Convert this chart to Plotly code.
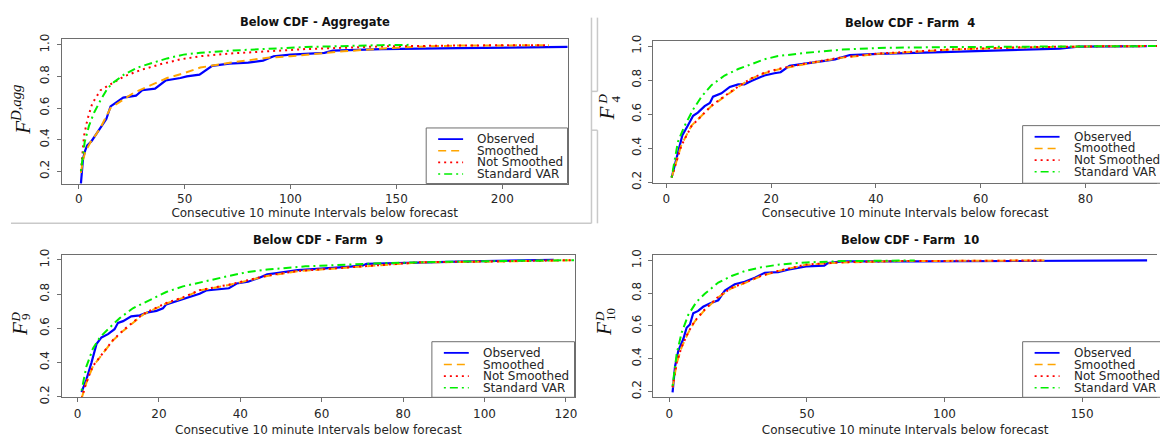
import plotly.graph_objects as go

W, H = 1160, 437

# ---------------- data ----------------
series_names = ["Observed", "Smoothed", "Not Smoothed", "Standard VAR"]
x_axis_label = "Consecutive 10 minute Intervals below forecast"
panel_titles = ["Below CDF - Aggregate", "Below CDF - Farm  4",
                "Below CDF - Farm  9", "Below CDF - Farm  10"]

# Aggregate
agg_obs_x = [1, 2, 3, 4, 6, 8, 10, 12, 13, 15, 17, 21, 27, 30, 36, 41, 48, 51, 57, 63, 71, 80, 87, 92, 100, 116, 120, 143, 179, 215, 231]
agg_obs_y = [0.12, 0.28, 0.33, 0.364, 0.39, 0.43, 0.467, 0.51, 0.53, 0.61, 0.63, 0.666, 0.678, 0.713, 0.723, 0.774, 0.79, 0.80, 0.811, 0.867, 0.881, 0.887, 0.90, 0.928, 0.938, 0.949, 0.963, 0.973, 0.979, 0.984, 0.987]
agg_sm_x = [1, 2, 3, 5.6, 8, 10.3, 15, 20.5, 26, 33.8, 41.7, 49.5, 57.4, 71.3, 89.2, 100, 125, 152, 179, 222]
agg_sm_y = [0.19, 0.27, 0.32, 0.385, 0.43, 0.477, 0.60, 0.65, 0.697, 0.743, 0.79, 0.82, 0.856, 0.887, 0.918, 0.928, 0.959, 0.984, 0.996, 0.997]
agg_ns_x = [1, 1.7, 2.5, 4.1, 6.4, 10.3, 15, 21.3, 29.1, 38.5, 48, 57.4, 71.3, 89.2, 107, 143, 179, 222]
agg_ns_y = [0.2, 0.323, 0.426, 0.528, 0.63, 0.713, 0.75, 0.80, 0.84, 0.877, 0.908, 0.928, 0.945, 0.959, 0.973, 0.99, 0.996, 0.998]
agg_var_x = [1, 1.4, 2.8, 4.8, 7.2, 10.3, 13.5, 16.6, 21.3, 27.6, 33.8, 41.7, 49.5, 57.4, 71.3, 89.2, 107, 143, 157]
agg_var_y = [0.2, 0.24, 0.385, 0.487, 0.57, 0.65, 0.723, 0.764, 0.811, 0.856, 0.88, 0.914, 0.938, 0.95, 0.963, 0.973, 0.986, 0.998, 1.0]

# Farm 4
f4_obs_x = [1, 2.2, 3.05, 4.1, 5.1, 6, 7.3, 8.3, 8.9, 10.5, 12.1, 13.7, 14.9, 16.2, 17.5, 18.7, 20.6, 21.8, 23.5, 26.6, 30.1, 32.2, 35, 40.5, 54.3, 68.2, 75.1, 78.6, 88.9, 91.7]
f4_obs_y = [0.228, 0.38, 0.476, 0.533, 0.59, 0.609, 0.647, 0.666, 0.703, 0.722, 0.76, 0.775, 0.775, 0.795, 0.814, 0.827, 0.84, 0.846, 0.884, 0.897, 0.909, 0.922, 0.947, 0.954, 0.966, 0.979, 0.985, 0.996, 1.0, 1.0]
f4_sm_x = [1, 2.86, 4.8, 6.7, 8.6, 11.1, 13.7, 16.2, 18.7, 21.3, 26.6, 33.6, 40.5, 54.3, 68.2, 82, 93.7]
f4_sm_y = [0.228, 0.419, 0.533, 0.59, 0.647, 0.703, 0.76, 0.808, 0.840, 0.862, 0.895, 0.932, 0.954, 0.979, 0.992, 0.998, 1.0]
f4_ns_x = [1, 2.86, 4.8, 6.7, 8.6, 11.1, 13.7, 16.2, 18.7, 21.3, 26.6, 33.6, 40.5, 54.3, 68.2, 82, 93.7]
f4_ns_y = [0.228, 0.416, 0.530, 0.592, 0.650, 0.706, 0.762, 0.810, 0.843, 0.865, 0.898, 0.934, 0.956, 0.980, 0.993, 0.998, 1.0]
f4_var_x = [1, 2.2, 3.5, 5.1, 6.7, 8.6, 11.1, 13.7, 16.2, 18.7, 21.3, 26.6, 33.6, 40.5, 54.3, 75, 93.7]
f4_var_y = [0.228, 0.438, 0.533, 0.627, 0.703, 0.77, 0.827, 0.865, 0.893, 0.922, 0.941, 0.96, 0.979, 0.989, 0.994, 0.998, 1.0]

# Farm 9
f9_obs_x = [1, 2.2, 3.4, 4.7, 5.9, 7.5, 9.1, 9.95, 11.2, 13.2, 15.3, 17.3, 19.4, 21, 21.8, 30, 31.6, 35.4, 37.2, 39.1, 41.9, 44.7, 46.6, 48.5, 54.1, 65.4, 70, 71, 82.3, 93.5, 117]
f9_obs_y = [0.227, 0.302, 0.397, 0.51, 0.547, 0.566, 0.595, 0.632, 0.642, 0.67, 0.676, 0.693, 0.702, 0.717, 0.74, 0.802, 0.821, 0.83, 0.834, 0.862, 0.872, 0.896, 0.915, 0.921, 0.94, 0.957, 0.966, 0.977, 0.985, 0.99, 1.0]
f9_sm_x = [1, 2.2, 3.8, 6.3, 8.7, 11.2, 13.6, 16.1, 18.5, 21.8, 25.9, 30, 37.2, 41.9, 46.6, 54.1, 65.4, 74.8, 84.1, 102.9, 122]
f9_sm_y = [0.19, 0.283, 0.378, 0.453, 0.529, 0.585, 0.632, 0.68, 0.708, 0.745, 0.778, 0.821, 0.853, 0.878, 0.906, 0.934, 0.953, 0.972, 0.985, 0.99, 0.998]
f9_ns_x = [1, 2.2, 3.8, 6.3, 8.7, 11.2, 13.6, 16.1, 18.5, 21.8, 25.9, 30, 37.2, 41.9, 46.6, 54.1, 65.4, 74.8, 84.1, 102.9, 122]
f9_ns_y = [0.19, 0.285, 0.380, 0.456, 0.531, 0.588, 0.635, 0.683, 0.711, 0.748, 0.781, 0.823, 0.855, 0.880, 0.908, 0.935, 0.954, 0.973, 0.986, 0.991, 0.998]
f9_var_x = [1, 2.2, 3.8, 5.5, 7.9, 10.4, 13.6, 17.7, 21.8, 25.9, 30, 37.2, 41.9, 46.6, 56, 65.4, 74.8, 93.5, 122]
f9_var_y = [0.236, 0.378, 0.482, 0.547, 0.604, 0.66, 0.717, 0.765, 0.812, 0.845, 0.868, 0.906, 0.929, 0.943, 0.962, 0.972, 0.981, 0.99, 0.998]

# Farm 10
f10_obs_x = [1.2, 2.1, 3.3, 5.1, 6.3, 7.5, 8.7, 10.5, 12.3, 14.7, 17.8, 20.2, 23.8, 27.4, 31.1, 34.7, 39.5, 43.1, 49.7, 56.3, 57.6, 62.9, 89.2, 128.7, 155, 173.6]
f10_obs_y = [0.194, 0.352, 0.45, 0.52, 0.589, 0.609, 0.678, 0.692, 0.717, 0.737, 0.757, 0.816, 0.855, 0.87, 0.895, 0.925, 0.929, 0.944, 0.964, 0.968, 0.984, 0.994, 0.994, 0.997, 1.0, 1.0]
f10_sm_x = [1.2, 2.7, 4.5, 6.9, 9.3, 12.9, 17.8, 22.6, 27.4, 33.4, 39.5, 43.1, 49.7, 62.9, 82.6, 136.6]
f10_sm_y = [0.224, 0.372, 0.47, 0.559, 0.628, 0.698, 0.775, 0.83, 0.862, 0.905, 0.935, 0.948, 0.974, 0.988, 0.996, 1.0]
f10_ns_x = [1.2, 2.7, 4.5, 6.9, 9.3, 12.9, 17.8, 22.6, 27.4, 33.4, 39.5, 43.1, 49.7, 62.9, 82.6, 136.6]
f10_ns_y = [0.226, 0.375, 0.473, 0.562, 0.631, 0.701, 0.778, 0.832, 0.864, 0.907, 0.936, 0.949, 0.975, 0.989, 0.996, 1.0]
f10_var_x = [1.2, 2.7, 4.5, 6.9, 9.9, 12.9, 17.8, 22.6, 27.4, 33.4, 39.5, 49.7, 62.9, 89.2]
f10_var_y = [0.234, 0.431, 0.559, 0.668, 0.747, 0.796, 0.865, 0.905, 0.935, 0.958, 0.974, 0.988, 0.996, 1.0]

x_ticks_agg = [0, 50, 100, 150, 200]
x_ticks_f4 = [0, 20, 40, 60, 80]
x_ticks_f9 = [0, 20, 40, 60, 80, 100, 120]
x_ticks_f10 = [0, 50, 100, 150]
y_ticks = [0.2, 0.4, 0.6, 0.8, 1.0]

# ---------------- styles ----------------
COLORS = ["#0000FF", "#FFA500", "#FF0000", "#00EE00"]
DASHES = ["solid", "8px,5px", "2px,4px", "2px,4px,8px,4px"]
WIDTHS = [2.2, 2, 2, 2]
AX = "#6e6e6e"
TXT = "#262626"
SANS = "DejaVu Sans"
SERIF = "Liberation Serif"


def fx(p):
    return p / W


def fy(p):
    return 1 - p / H


panels = [
    dict(data=[(agg_obs_x, agg_obs_y), (agg_sm_x, agg_sm_y), (agg_ns_x, agg_ns_y), (agg_var_x, agg_var_y)],
         box=(62, 569, 34, 183), xr=[-8, 230.8], yr=[0.122, 1.037], xt=x_ticks_agg,
         leg=(427.3, 125.7), title=panel_titles[0], mirror_y=True, tdy=18, sto=2, tls=0),
    dict(data=[(f4_obs_x, f4_obs_y), (f4_sm_x, f4_sm_y), (f4_ns_x, f4_ns_y), (f4_var_x, f4_var_y)],
         box=(655, 1160, 36, 182.7), xr=[-2.5, 93.65], yr=[0.194, 1.03], xt=x_ticks_f4,
         leg=(1025.3, 123.3), title=panel_titles[1], mirror_y=False, tcx=912, tdy=18, sto=2, tls=0),
    dict(data=[(f9_obs_x, f9_obs_y), (f9_sm_x, f9_sm_y), (f9_ns_x, f9_ns_y), (f9_var_x, f9_var_y)],
         box=(62.3, 576, 256.7, 403.3), xr=[-3.77, 122.1], yr=[0.197, 1.028], xt=x_ticks_f9,
         leg=(433, 346), title=panel_titles[2], mirror_y=True, tdy=16, sto=6, tls=1),
    dict(data=[(f10_obs_x, f10_obs_y), (f10_sm_x, f10_sm_y), (f10_ns_x, f10_ns_y), (f10_var_x, f10_var_y)],
         box=(655, 1160, 256.7, 403.3), xr=[-5.8, 177.2], yr=[0.164, 1.033], xt=x_ticks_f10,
         leg=(1025.3, 346), title=panel_titles[3], mirror_y=False, tcx=912, tdy=16, sto=6, tls=1),
]

fig = go.Figure()
shapes = []
annotations = []
layout = {}

for i, p in enumerate(panels):
    k = "" if i == 0 else str(i + 1)
    x0, x1, y0, y1 = p["box"]
    for j, (xs, ys) in enumerate(p["data"]):
        fig.add_trace(go.Scatter(
            x=xs, y=ys, mode="lines", name=series_names[j], showlegend=False,
            line=dict(color=COLORS[j], width=WIDTHS[j], dash=DASHES[j]),
            xaxis="x" + k, yaxis="y" + k, hoverinfo="skip"))
    layout["xaxis" + k] = dict(
        domain=[fx(x0), fx(x1)], range=p["xr"], anchor="y" + k,
        showline=True, mirror=True, linecolor=AX, linewidth=1,
        ticks="outside", ticklen=4, tickcolor=AX, tickwidth=1,
        tickvals=p["xt"], showgrid=False, zeroline=False,
        tickfont=dict(family=SANS, size=12, color=TXT), ticklabelstandoff=p["tls"],
        title=dict(text=x_axis_label, standoff=p["sto"],
                   font=dict(family=SANS, size=12, color=TXT)))
    layout["yaxis" + k] = dict(
        domain=[fy(y1), fy(y0)], range=p["yr"], anchor="x" + k,
        showline=True, mirror=p["mirror_y"], linecolor=AX, linewidth=1,
        ticks="outside", ticklen=4, tickcolor=AX, tickwidth=1,
        tickvals=y_ticks, tickformat=".1f", tickangle=-90, showgrid=False, zeroline=False,
        tickfont=dict(family=SANS, size=12, color=TXT), ticklabelstandoff=3)

    cx = p.get("tcx", (x0 + x1) / 2)
    # title
    annotations.append(dict(text="<b>" + p["title"] + "</b>", x=fx(cx), y=fy(y0 - p["tdy"]),
                            xref="paper", yref="paper", showarrow=False,
                            xanchor="center", yanchor="middle",
                            font=dict(family=SANS, size=11.5, color="#111")))

    # legend (R style, bottom-right box)
    lx, ly = p["leg"]
    shapes.append(dict(type="rect", xref="paper", yref="paper",
                       x0=fx(lx), x1=fx(x1 if p["mirror_y"] else 1300), y0=fy(y1), y1=fy(ly),
                       line=dict(color=AX, width=1), fillcolor="white", layer="above"))
    for j, nm in enumerate(series_names):
        ey = ly + 11.5 + 12 * j
        shapes.append(dict(type="line", xref="paper", yref="paper",
                           x0=fx(lx + 12), x1=fx(lx + 37), y0=fy(ey), y1=fy(ey),
                           line=dict(color=COLORS[j], width=WIDTHS[j] - 0.4, dash=DASHES[j]),
                           layer="above"))
        annotations.append(dict(text=nm, x=fx(lx + 49), y=fy(ey - 0.5), xref="paper", yref="paper",
                                showarrow=False, xanchor="left", yanchor="middle", height=11,
                                font=dict(family=SANS, size=12, color=TXT)))

# y-axis labels (math style)
annotations.append(dict(text="<i>F</i><sup><i>D,agg</i></sup>", x=fx(22), y=fy(107),
                        xref="paper", yref="paper", showarrow=False, textangle=-90,
                        xanchor="center", yanchor="middle",
                        font=dict(family=SERIF, size=21, color="#111")))
for (fxc, fyc, dxc, dyc, sxc, syc, sub) in [
        (608.5, 111, 604, 96, 617, 96, "4"),
        (20, 333, 16, 320, 25.5, 320, "9"),
        (605.5, 333, 601, 320, 612, 318, "10")]:
    annotations.append(dict(text="<i>F</i>", x=fx(fxc), y=fy(fyc), xref="paper", yref="paper",
                            showarrow=False, textangle=-90, xanchor="center", yanchor="middle",
                            font=dict(family=SERIF, size=21, color="#111")))
    annotations.append(dict(text="<i>D</i>", x=fx(dxc), y=fy(dyc), xref="paper", yref="paper",
                            showarrow=False, textangle=-90, xanchor="center", yanchor="middle",
                            font=dict(family=SERIF, size=13, color="#111")))
    annotations.append(dict(text=sub, x=fx(sxc), y=fy(syc), xref="paper", yref="paper",
                            showarrow=False, textangle=-90, xanchor="center", yanchor="middle",
                            font=dict(family=SERIF, size=13, color="#111")))

# screenshot frame remnants (light grey rules)
FR = "#c9c9c9"
for (a, b, c, d) in [(11, 224, 593, 224), (593, 12, 593, 224), (599, 12, 599, 88),
                     (593, 88, 599, 88), (593, 128, 599, 128), (599, 128, 599, 224)]:
    shapes.append(dict(type="line", xref="paper", yref="paper",
                       x0=fx(a), y0=fy(b), x1=fx(c), y1=fy(d),
                       line=dict(color=FR, width=1.5), layer="below"))

fig.update_layout(
    width=W, height=H, margin=dict(l=0, r=0, t=0, b=0),
    paper_bgcolor="white", plot_bgcolor="white",
    showlegend=False, shapes=shapes, annotations=annotations, **layout)

fig.write_html("out.html", config={"displayModeBar": False},
               post_script="document.body.style.margin='0';document.body.style.overflow='hidden';")
